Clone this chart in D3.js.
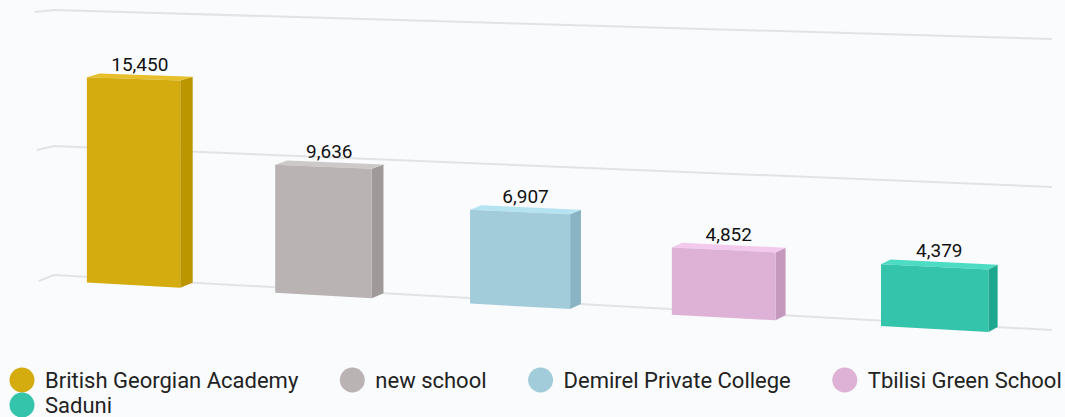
<!DOCTYPE html>
<html>
<head>
<meta charset="utf-8">
<script src="https://cdn.jsdelivr.net/npm/d3@7"></script>
<style>
  body { margin: 0; background: #F9FBFD; }
  svg { display: block; font-family: Roboto, sans-serif; }
</style>
</head>
<body>
<div id="container"></div>
<script>
// DATA

const schools = ["British Georgian Academy", "new school", "Demirel Private College", "Tbilisi Green School", "Saduni"]
const students = [15450, 9636, 6907, 4852, 4379]
const gridValues = [0, 10000, 20000]

const frontColors = ["#D4AC0F", "#B9B3B3", "#A3CCDB", "#DEB1D6", "#34C3AB"]
const sideColors = ["#BC9600", "#A09999", "#8AB3C3", "#C599BE", "#1DA88F"]
const topColors = ["#E6BF2A", "#CEC9C9", "#B6E3F2", "#F3CAEE", "#4CDCC3"]

// VARIABLES

const width = 1065,
      height = 417

// perspective of the back wall (u runs 0..1 along the wall)
const pA = 909.7, pB = 53.8, pC = -0.084
const px = u => (pA * u + pB) / (pC * u + 1)
const xL = px(0), xR = px(1)

// SCALES

const uScale = d3.scaleBand()
    .domain(schools)
    .range([0, 1])
    .paddingInner(0.5)
    .paddingOuter(0.25)

const yLeft = d3.scaleLinear().domain(gridValues).range([275, 146, 10])
const yRight = d3.scaleLinear().domain(gridValues).range([330, 187, 39])

const colorScale = d3.scaleOrdinal().domain(schools).range(frontColors)

function wall(u, v) {
  const x = px(u)
  const t = (x - xL) / (xR - xL)
  return [x, yLeft(v) * (1 - t) + yRight(v) * t]
}

function front(u, v) {
  const [x, y] = wall(u, v)
  const t = (x - xL) / (xR - xL)
  return [x - 13 + 4 * t, y + 5 - 1.5 * v / 20000]
}

const poly = pts => "M" + pts.map(p => p.join(",")).join("L") + "Z"

// ELEMENTS

const svg = d3.select("#container")
  .append("svg")
    .attr("width", width)
    .attr("height", height)

svg.append("rect")
    .attr("width", width)
    .attr("height", height)
    .attr("fill", "#F9FBFD")

// gridlines: short floor segment + long line on the wall
const grid = svg.append("g")
    .attr("fill", "none")
    .attr("stroke", "#E3E3E6")
    .attr("stroke-width", 2)

grid.selectAll("path")
  .data(gridValues)
  .join("path")
    .attr("d", v => {
      const a = wall(0, v), b = wall(1, v)
      const f = [a[0] - 15 - 4 * v / 20000, a[1] + 6 - 4 * v / 20000]
      return "M" + [f, a, b].map(p => p.join(",")).join("L")
    })

// bars
const data = schools.map((s, i) => ({ name: s, value: students[i], i }))

const bars = svg.selectAll("g.bar")
  .data(data)
  .join("g")
    .attr("class", "bar")

bars.append("path")
    .attr("fill", d => sideColors[d.i])
    .attr("d", d => {
      const u1 = uScale(d.name) + uScale.bandwidth()
      return poly([front(u1, 0), wall(u1, 0), wall(u1, d.value), front(u1, d.value)])
    })

bars.append("path")
    .attr("fill", d => topColors[d.i])
    .attr("d", d => {
      const u0 = uScale(d.name), u1 = u0 + uScale.bandwidth()
      return poly([front(u0, d.value), front(u1, d.value), wall(u1, d.value), wall(u0, d.value)])
    })

bars.append("path")
    .attr("fill", d => colorScale(d.name))
    .attr("d", d => {
      const u0 = uScale(d.name), u1 = u0 + uScale.bandwidth()
      return poly([front(u0, 0), front(u1, 0), front(u1, d.value), front(u0, d.value)])
    })

bars.append("text")
    .attr("x", d => {
      const u0 = uScale(d.name), u1 = u0 + uScale.bandwidth()
      return (front(u0, d.value)[0] + wall(u1, d.value)[0]) / 2
    })
    .attr("y", d => wall(uScale(d.name), d.value)[1] - 2)
    .attr("text-anchor", "middle")
    .attr("font-size", 19)
    .attr("fill", "#111")
    .text(d => d3.format(",")(d.value))

// LEGEND

const legend = svg.append("g")
    .attr("font-size", 22)

let lx = 22, ly = 380
schools.forEach((s, i) => {
  const item = legend.append("g")
  item.append("circle")
      .attr("r", 12.5)
      .attr("fill", colorScale(s))
  const txt = item.append("text")
      .attr("x", 23)
      .attr("dy", "0.35em")
      .attr("fill", "#222")
      .text(s)
  const w = txt.node().getComputedTextLength()
  if (lx + 23 + w > width) { lx = 22; ly += 25 }
  item.attr("transform", `translate(${lx},${ly})`)
  lx += 23 + w + 54
})
</script>
</body>
</html>
